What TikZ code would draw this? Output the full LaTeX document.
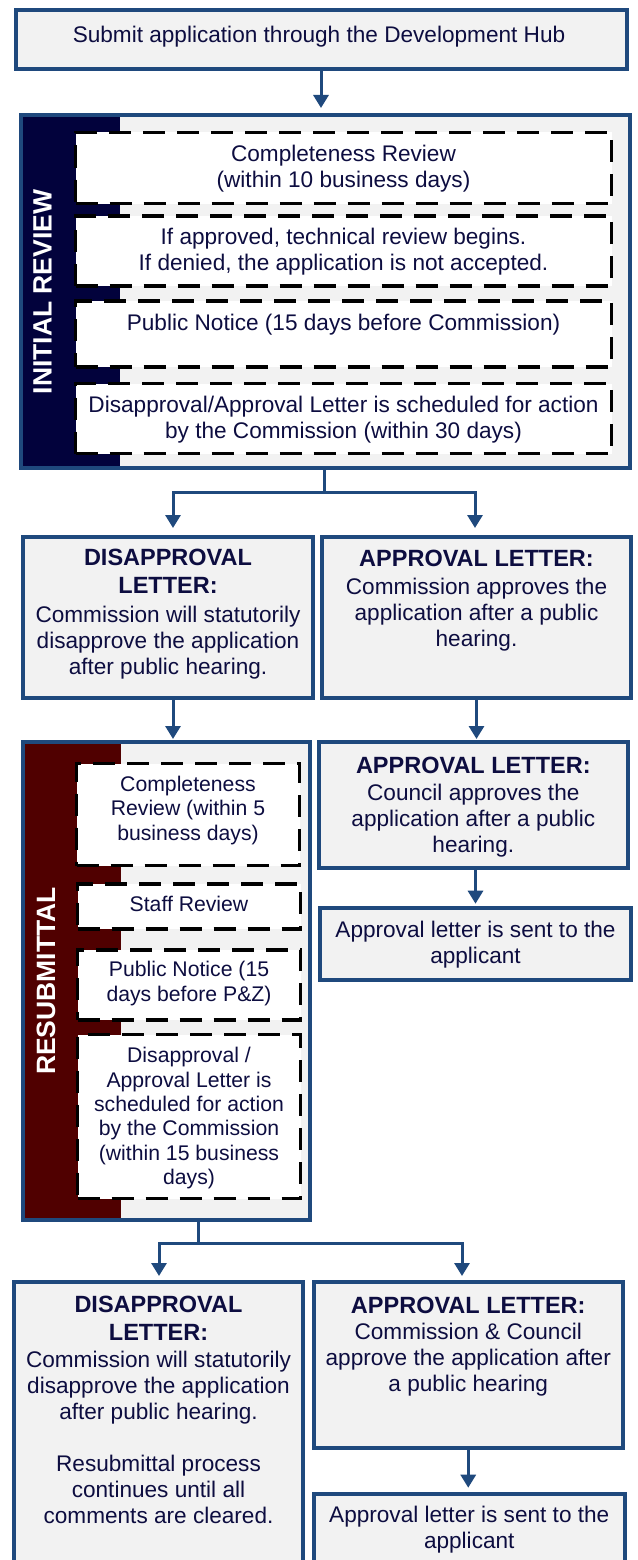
\documentclass[tikz,border=0pt]{standalone}
\usepackage{fontspec}
\setmainfont{Liberation Sans}
\usetikzlibrary{arrows.meta}
\definecolor{bblue}{RGB}{31,73,125}
\definecolor{navyband}{RGB}{2,2,60}
\definecolor{redband}{RGB}{80,0,0}
\definecolor{txtc}{RGB}{13,13,64}
\definecolor{lgray}{RGB}{242,242,242}
\newcommand\hdr[1]{{\fontsize{23.5}{26}\selectfont\bfseries #1}}
\begin{document}
\begin{tikzpicture}[x=1pt,y=-1pt,
  panel/.style={draw=bblue,line width=4pt,fill=lgray,inner sep=0pt},
  panelfill/.style={fill=lgray,draw=none,inner sep=0pt,outer sep=0pt},
  panelline/.style={draw=bblue,line width=4pt,inner sep=0pt},
  dbox/.style={draw=black,fill=white,line width=3.6pt,dash pattern=on 22pt off 12pt,inner sep=0pt},
  txt/.style={text=txtc,align=center,font=\fontsize{22.6}{26}\selectfont,inner sep=0pt,
    execute at begin node=\strut,execute at end node=\strut},
  stxt/.style={txt,font=\fontsize{21.2}{24.4}\selectfont},
  lbl/.style={rotate=90,text=white,font=\fontsize{26.5}{30}\selectfont\bfseries,inner sep=0pt},
  conn/.style={draw=bblue,line width=3pt},
  arr/.style={conn,-{Triangle[length=13pt,width=15pt]}}
]
\useasboundingbox (0,0) rectangle (637,1560);
\fill[white] (0,0) rectangle (637,1560);

% top box
\node[panel,minimum width=611pt,minimum height=59pt] (top) at (321,39.5) {};
\node[txt] (toptxt) at (319,37) {Submit application through the Development Hub};

% initial review panel
\node[panelfill,minimum width=609pt,minimum height=353pt] (irbg) at (325.5,291.5) {};
\fill[navyband] (irbg.north west) rectangle ([xshift=99pt]irbg.south west);
\node[panelline,minimum width=609pt,minimum height=353pt] (ir) at (325.5,291.5) {};
\node[lbl] (irlbl) at (42.5,292) {INITIAL REVIEW};

\node[dbox,minimum width=536pt,minimum height=71pt] (b1) at (343.5,168) {};
\node[dbox,minimum width=536pt,minimum height=70pt] (b2) at (343.5,251) {};
\node[dbox,minimum width=536pt,minimum height=66pt] (b3) at (343.5,334) {};
\node[dbox,minimum width=536pt,minimum height=70pt] (b4) at (343.5,418.5) {};
\node[txt] (b1t) at (343.5,170) {Completeness Review\\(within 10 business days)};
\node[txt] (b2t) at (343.5,253.5) {If approved, technical review begins.\\If denied, the application is not accepted.};
\node[txt] (b3t) at (343.5,325) {Public Notice (15 days before Commission)};
\node[txt] (b4t) at (343.5,421) {Disapproval/Approval Letter is scheduled for action\\by the Commission (within 30 days)};

% first split
\coordinate (j1) at (324,492);
\coordinate (j1l) at (173,492);
\coordinate (j1r) at (475,492);
\draw[arr] (top.south) -- (top.south |- ir.north) [shorten >=5pt];
\draw[conn] (ir.south -| j1) -- (j1);
\draw[arr,shorten >=7pt] (j1) -- (j1l) -- (j1l |- 0,535);

% first letters
\node[panel,minimum width=290pt,minimum height=161pt] (d1) at (168,617.5) {};
\node[panel,minimum width=309pt,minimum height=161pt] (a1) at (476.5,617.5) {};
\draw[arr,shorten >=7pt] (j1) -- (j1r) -- (j1r |- d1.north);
\node[txt] (d1t) at (168,616) {\hdr{DISAPPROVAL}\\[2pt]\hdr{LETTER:}\\[3pt]Commission will statutorily\\disapprove the application\\after public hearing.};
\node[txt] (a1t) at (476.5,601.8) {\hdr{APPROVAL LETTER:}\\[2pt]Commission approves the\\application after a public\\hearing.};

% resubmittal panel
\node[panelfill,minimum width=287.5pt,minimum height=478pt] (rsbg) at (166.25,981) {};
\fill[redband] (rsbg.north west) rectangle ([xshift=98pt]rsbg.south west);
\node[panelline,minimum width=287.5pt,minimum height=478pt] (rs) at (166.25,981) {};
\node[lbl] (rslbl) at (46,981) {RESUBMITTAL};
\draw[arr,shorten >=1pt] (j1l |- d1.south) -- (j1l |- rs.north);

\node[dbox,minimum width=223pt,minimum height=102pt] (c1) at (188,814.5) {};
\node[dbox,minimum width=223pt,minimum height=45pt] (c2) at (189,906.3) {};
\node[dbox,minimum width=223pt,minimum height=70pt] (c3) at (189,985) {};
\node[dbox,minimum width=223pt,minimum height=164pt] (c4) at (189,1116.5) {};
\node[stxt] (c1t) at (188,811.7) {Completeness\\Review (within 5\\business days)};
\node[stxt] (c2t) at (189,906.7) {Staff Review};
\node[stxt] (c3t) at (189,985) {Public Notice (15\\days before P\&Z)};
\node[stxt] (c4t) at (189,1119.6) {Disapproval /\\Approval Letter is\\scheduled for action\\by the Commission\\(within 15 business\\days)};

% council approval
\node[panel,minimum width=309.3pt,minimum height=126pt] (co) at (473.3,805) {};
\node[txt] (cot) at (473.3,808.8) {\hdr{APPROVAL LETTER:}\\[1pt]Council approves the\\application after a public\\hearing.};
\draw[arr,shorten >=1pt] (a1.south) -- (a1.south |- co.north);
\node[panel,minimum width=311pt,minimum height=72pt] (s1) at (475.5,943.7) {};
\node[txt] (s1t) at (475.5,946) {Approval letter is sent to the\\applicant};
\draw[arr,shorten >=2pt] (s1.north |- co.south) -- (s1.north);

% second split
\coordinate (j2) at (198,1243);
\coordinate (j2l) at (159,1243);
\coordinate (j2r) at (462,1243);
\node[panel,minimum width=289pt,minimum height=318pt] (d2) at (158.5,1441) {};
\node[panel,minimum width=308.5pt,minimum height=166pt] (a2) at (468.25,1365) {};
\node[panel,minimum width=310.5pt,minimum height=106.3pt] (s2) at (469.25,1546.85) {};
\draw[conn] (rs.south -| j2) -- (j2);
\draw[arr,shorten >=4pt] (j2) -- (j2l) -- (j2l |- d2.north);
\draw[arr,shorten >=4pt] (j2) -- (j2r) -- (j2r |- a2.north);
\draw[arr,shorten >=4pt] (a2.south) -- (a2.south |- s2.north);
\node[txt] (d2t) at (158.5,1414) {\hdr{DISAPPROVAL}\\[2pt]\hdr{LETTER:}\\[1pt]Commission will statutorily\\disapprove the application\\after public hearing.\\[26pt]Resubmittal process\\continues until all\\comments are cleared.};
\node[txt] (a2t) at (468.25,1348.6) {\hdr{APPROVAL LETTER:}\\Commission \& Council\\approve the application after\\a public hearing};
\node[txt] (s2t) at (469.25,1531.5) {Approval letter is sent to the\\applicant};
\end{tikzpicture}
\end{document}
